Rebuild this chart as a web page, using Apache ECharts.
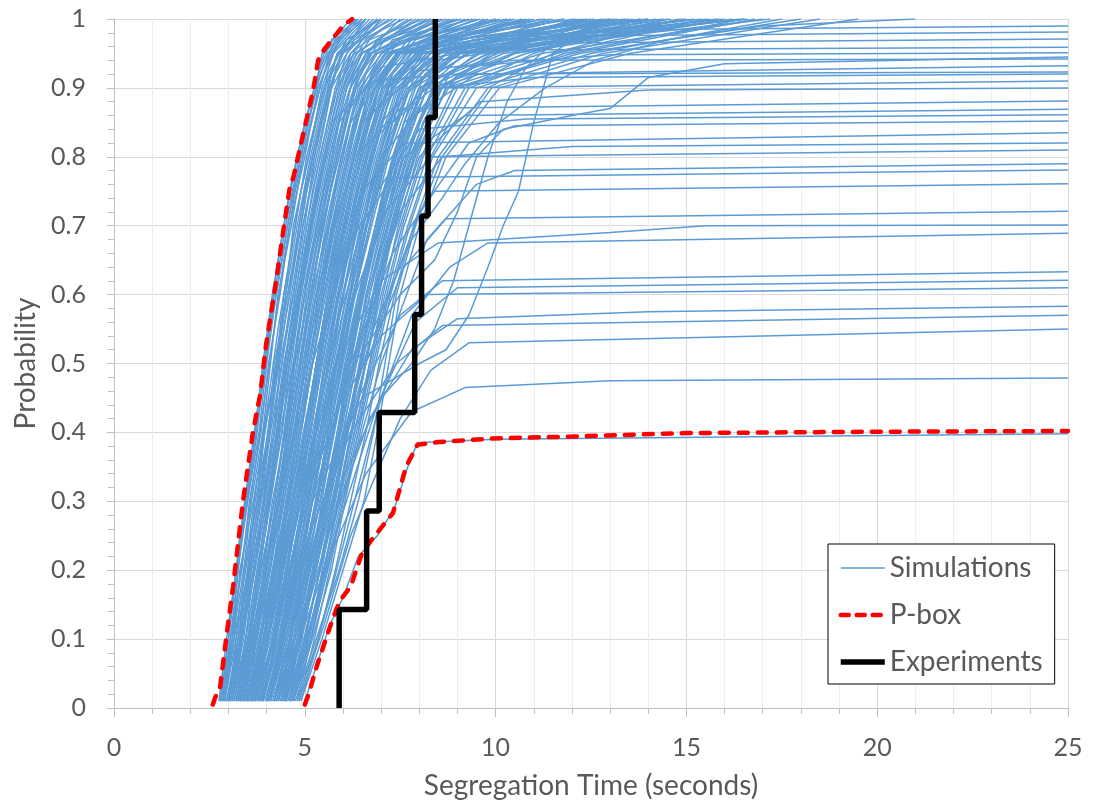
<!DOCTYPE html>
<html>
<head>
<meta charset="utf-8">
<script src="https://cdn.jsdelivr.net/npm/echarts@6/dist/echarts.min.js"></script>
<style>
  html, body { margin: 0; padding: 0; background: #fff; }
  #chart { width: 1093px; height: 805px; }
</style>
</head>
<body>
<div id="chart"></div>
<script>
var simLevels = [0.01, 0.1, 0.2, 0.3, 0.4, 0.5, 0.6, 0.7, 0.8, 0.9, 0.95, 1];
var simLevelsB = [0.01, 0.05, 0.15, 0.25, 0.35, 0.45, 0.55, 0.65, 0.75, 0.85, 0.92, 0.97, 1];

// runs that reach probability 1 (segregation time at each level of simLevels)
var simFullRuns = [
  [2.75, 2.95, 3.2, 3.45, 3.7, 3.9, 4.15, 4.45, 4.8, 5.25, 5.5, 6.35],
  [2.78, 3.0, 3.22, 3.5, 3.75, 3.95, 4.2, 4.5, 4.85, 5.3, 5.45, 6.2],
  [2.8, 3.1, 3.25, 3.5, 3.8, 4.0, 4.25, 4.55, 4.9, 5.3, 5.6, 6.3],
  [2.8, 3.05, 3.35, 3.55, 3.85, 4.05, 4.35, 4.6, 5.0, 5.35, 5.7, 6.5],
  [2.85, 3.1, 3.4, 3.6, 3.9, 4.1, 4.3, 4.65, 4.95, 5.4, 5.65, 6.4],
  [2.85, 3.15, 3.3, 3.65, 3.95, 4.25, 4.45, 4.75, 5.05, 5.5, 5.9, 6.9],
  [2.9, 3.15, 3.45, 3.75, 3.95, 4.25, 4.5, 4.7, 5.1, 5.45, 5.75, 6.6],
  [2.9, 3.2, 3.5, 3.7, 4.05, 4.2, 4.55, 4.9, 5.2, 5.65, 6.0, 7.2],
  [2.95, 3.3, 3.4, 3.75, 3.9, 4.3, 4.5, 4.8, 5.15, 5.55, 5.85, 6.7],
  [2.95, 3.25, 3.5, 3.8, 4.05, 4.3, 4.6, 4.85, 5.2, 5.6, 5.85, 6.8],
  [3.0, 3.25, 3.55, 3.85, 4.1, 4.4, 4.7, 4.95, 5.35, 5.7, 6.2, 7.0],
  [3.0, 3.3, 3.6, 3.9, 4.15, 4.4, 4.65, 4.95, 5.3, 5.7, 5.95, 7.1],
  [3.0, 3.35, 3.55, 3.85, 4.2, 4.35, 4.7, 5.0, 5.25, 5.65, 5.95, 6.6],
  [3.05, 3.4, 3.6, 3.95, 4.2, 4.45, 4.8, 5.1, 5.45, 5.85, 6.3, 7.8],
  [3.05, 3.35, 3.65, 3.95, 4.25, 4.5, 4.75, 5.05, 5.4, 5.8, 6.1, 6.9],
  [3.1, 3.35, 3.7, 4.0, 4.3, 4.6, 4.85, 5.2, 5.55, 6.0, 6.45, 8.3],
  [3.1, 3.45, 3.75, 4.05, 4.3, 4.55, 4.85, 5.15, 5.5, 5.9, 6.2, 7.4],
  [3.15, 3.45, 3.75, 4.05, 4.4, 4.65, 4.9, 5.25, 5.6, 6.05, 6.5, 8.0],
  [3.15, 3.5, 3.8, 4.1, 4.4, 4.6, 4.9, 5.2, 5.55, 6.0, 6.35, 7.7],
  [3.2, 3.5, 3.8, 4.1, 4.35, 4.7, 4.95, 5.3, 5.65, 6.1, 6.6, 7.5],
  [3.2, 3.55, 3.85, 4.2, 4.45, 4.7, 5.0, 5.3, 5.65, 6.1, 6.5, 8.2],
  [3.25, 3.55, 3.9, 4.15, 4.5, 4.75, 5.1, 5.4, 5.8, 6.2, 6.7, 9.0],
  [3.25, 3.6, 3.95, 4.25, 4.55, 4.8, 5.05, 5.4, 5.75, 6.2, 6.6, 7.9],
  [3.3, 3.6, 3.95, 4.3, 4.55, 4.85, 5.15, 5.5, 5.85, 6.35, 6.9, 8.8],
  [3.3, 3.65, 4.0, 4.3, 4.6, 4.9, 5.15, 5.5, 5.85, 6.3, 6.7, 8.6],
  [3.35, 3.7, 4.0, 4.35, 4.65, 4.95, 5.3, 5.6, 5.95, 6.45, 7.1, 10.0],
  [3.35, 3.75, 4.05, 4.4, 4.65, 4.95, 5.25, 5.55, 5.95, 6.4, 6.85, 9.3],
  [3.35, 3.65, 4.0, 4.35, 4.6, 4.9, 5.2, 5.45, 5.9, 6.3, 6.75, 8.4],
  [3.4, 3.75, 4.1, 4.4, 4.7, 5.05, 5.35, 5.7, 6.1, 6.55, 7.2, 9.5],
  [3.4, 3.7, 4.05, 4.45, 4.75, 5.0, 5.4, 5.75, 6.15, 6.6, 7.3, 10.8],
  [3.45, 3.8, 4.2, 4.5, 4.8, 5.1, 5.45, 5.8, 6.2, 6.7, 7.4, 11.0],
  [3.45, 3.8, 4.15, 4.45, 4.75, 5.05, 5.35, 5.65, 6.05, 6.5, 7.0, 8.9],
  [3.5, 3.9, 4.25, 4.6, 4.9, 5.2, 5.55, 5.9, 6.3, 6.8, 7.5, 12.5],
  [3.5, 3.85, 4.15, 4.55, 4.85, 5.2, 5.5, 5.85, 6.25, 6.75, 7.45, 9.2],
  [3.5, 3.85, 4.2, 4.55, 4.8, 5.1, 5.45, 5.75, 6.15, 6.6, 7.1, 10.4],
  [3.55, 3.95, 4.3, 4.65, 5.0, 5.3, 5.65, 6.0, 6.4, 6.95, 7.7, 10.5],
  [3.55, 3.9, 4.25, 4.6, 4.9, 5.2, 5.5, 5.85, 6.25, 6.7, 7.25, 9.8],
  [3.6, 4.0, 4.4, 4.7, 5.05, 5.4, 5.7, 6.1, 6.5, 7.05, 7.9, 13.5],
  [3.6, 4.05, 4.35, 4.75, 5.1, 5.35, 5.75, 6.15, 6.55, 7.1, 8.0, 12.8],
  [3.6, 4.0, 4.35, 4.65, 5.0, 5.3, 5.6, 5.95, 6.35, 6.85, 7.4, 11.5],
  [3.65, 4.1, 4.45, 4.8, 5.15, 5.45, 5.8, 6.2, 6.6, 7.15, 8.1, 11.8],
  [3.65, 4.05, 4.4, 4.7, 5.0, 5.35, 5.65, 6.0, 6.4, 6.9, 7.45, 10.1],
  [3.7, 4.15, 4.5, 4.9, 5.2, 5.55, 5.9, 6.3, 6.75, 7.3, 8.3, 15.0],
  [3.7, 4.05, 4.4, 4.75, 5.05, 5.35, 5.7, 6.05, 6.45, 6.95, 7.5, 10.9],
  [3.75, 4.2, 4.55, 4.85, 5.25, 5.5, 5.85, 6.25, 6.7, 7.2, 8.2, 13.2],
  [3.75, 4.15, 4.5, 4.85, 5.15, 5.45, 5.8, 6.15, 6.55, 7.05, 7.65, 12.4],
  [3.8, 4.2, 4.6, 4.95, 5.3, 5.6, 6.0, 6.4, 6.85, 7.4, 8.5, 12.2],
  [3.85, 4.3, 4.65, 5.05, 5.4, 5.7, 6.1, 6.5, 6.95, 7.55, 8.7, 16.5],
  [3.85, 4.25, 4.6, 4.95, 5.25, 5.55, 5.9, 6.25, 6.65, 7.2, 7.8, 11.2],
  [3.9, 4.35, 4.75, 5.1, 5.45, 5.8, 6.2, 6.6, 7.05, 7.7, 9.0, 14.0],
  [3.9, 4.3, 4.7, 5.0, 5.35, 5.65, 6.0, 6.35, 6.8, 7.3, 8.0, 13.8],
  [3.95, 4.4, 4.8, 5.15, 5.5, 5.85, 6.25, 6.7, 7.1, 7.75, 9.1, 15.8],
  [4.0, 4.45, 4.85, 5.2, 5.55, 5.9, 6.3, 6.75, 7.2, 7.85, 9.3, 17.2],
  [4.0, 4.4, 4.75, 5.1, 5.45, 5.75, 6.1, 6.45, 6.9, 7.45, 8.1, 12.6],
  [4.05, 4.5, 4.9, 5.3, 5.65, 6.0, 6.4, 6.85, 7.35, 8.0, 9.8, 13.0],
  [4.05, 4.45, 4.8, 5.15, 5.5, 5.8, 6.15, 6.55, 6.95, 7.5, 8.2, 9.7],
  [4.1, 4.55, 4.95, 5.35, 5.7, 6.05, 6.45, 6.9, 7.4, 8.1, 9.6, 12.0],
  [4.1, 4.5, 4.85, 5.2, 5.55, 5.85, 6.2, 6.6, 7.0, 7.6, 8.3, 14.6],
  [4.15, 4.6, 5.0, 5.4, 5.75, 6.15, 6.5, 6.95, 7.5, 8.2, 10.2, 16.0],
  [4.2, 4.7, 5.1, 5.5, 5.85, 6.25, 6.65, 7.1, 7.6, 8.35, 10.8, 14.5],
  [4.2, 4.6, 4.95, 5.3, 5.65, 5.95, 6.3, 6.7, 7.15, 7.75, 8.5, 13.1],
  [4.25, 4.75, 5.15, 5.55, 5.9, 6.3, 6.7, 7.15, 7.65, 8.4, 10.5, 16.2],
  [4.3, 4.8, 5.2, 5.6, 6.0, 6.35, 6.8, 7.25, 7.75, 8.5, 11.2, 17.0],
  [4.3, 4.7, 5.05, 5.4, 5.75, 6.1, 6.45, 6.85, 7.3, 7.9, 8.7, 15.2],
  [4.35, 4.85, 5.25, 5.65, 6.05, 6.45, 6.85, 7.3, 7.8, 8.6, 10.0, 14.2],
  [4.4, 4.9, 5.3, 5.7, 6.1, 6.5, 6.9, 7.35, 7.9, 8.7, 11.6, 15.5],
  [4.4, 4.8, 5.2, 5.5, 5.85, 6.2, 6.55, 6.95, 7.45, 8.05, 8.9, 11.4],
  [4.45, 4.85, 5.25, 5.6, 5.95, 6.3, 6.6, 7.05, 7.5, 8.1, 9.0, 12.9],
  [4.5, 5.0, 5.4, 5.85, 6.2, 6.6, 7.0, 7.5, 8.05, 8.9, 12.0, 16.8],
  [4.5, 4.9, 5.3, 5.65, 6.0, 6.35, 6.7, 7.1, 7.55, 8.2, 9.2, 16.4],
  [4.55, 5.05, 5.5, 5.9, 6.3, 6.7, 7.1, 7.55, 8.1, 9.0, 12.2, 18.0],
  [4.6, 5.1, 5.55, 5.95, 6.35, 6.75, 7.15, 7.6, 8.2, 9.2, 11.0, 13.8],
  [4.6, 5.0, 5.4, 5.75, 6.1, 6.45, 6.8, 7.2, 7.7, 8.35, 9.5, 13.6],
  [4.65, 5.15, 5.6, 6.0, 6.4, 6.8, 7.2, 7.7, 8.3, 9.3, 11.8, 16.5],
  [4.7, 5.2, 5.7, 6.05, 6.45, 6.85, 7.25, 7.75, 8.35, 9.5, 12.5, 17.5],
  [4.7, 5.1, 5.5, 5.85, 6.25, 6.6, 6.95, 7.35, 7.85, 8.55, 9.9, 15.6],
  [4.75, 5.3, 5.9, 6.4, 6.8, 7.1, 7.4, 7.9, 8.6, 9.9, 12.8, 18.5],
  [4.8, 5.35, 5.8, 6.2, 6.6, 6.95, 7.35, 7.85, 8.5, 9.8, 11.5, 14.8],
  [4.85, 5.25, 5.65, 6.0, 6.4, 6.7, 7.05, 7.45, 7.95, 8.7, 10.5, 14.9],
  [4.9, 5.45, 6.0, 6.55, 6.9, 7.2, 7.5, 8.0, 8.7, 10.1, 13.5, 19.5]
];

// more full runs, read at the offset levels of simLevelsB
var simFullRunsB = [
  [2.8, 2.9, 3.1, 3.3, 3.55, 3.8, 4.05, 4.3, 4.6, 5.0, 5.35, 5.7, 6.4],
  [2.85, 2.95, 3.15, 3.35, 3.6, 3.85, 4.1, 4.4, 4.7, 5.1, 5.4, 5.8, 6.5],
  [2.9, 3.0, 3.2, 3.45, 3.7, 3.95, 4.2, 4.45, 4.75, 5.15, 5.5, 5.9, 6.6],
  [3.0, 3.1, 3.3, 3.55, 3.8, 4.05, 4.3, 4.6, 4.9, 5.3, 5.6, 6.1, 7.0],
  [3.05, 3.2, 3.4, 3.65, 3.9, 4.15, 4.4, 4.7, 5.0, 5.4, 5.7, 6.2, 6.9],
  [3.1, 3.25, 3.45, 3.7, 3.95, 4.2, 4.45, 4.75, 5.05, 5.45, 5.8, 6.3, 7.3],
  [3.2, 3.35, 3.55, 3.8, 4.05, 4.35, 4.6, 4.9, 5.2, 5.6, 5.95, 6.5, 7.6],
  [3.25, 3.4, 3.65, 3.9, 4.15, 4.4, 4.7, 4.95, 5.3, 5.7, 6.05, 6.6, 7.4],
  [3.3, 3.45, 3.7, 3.95, 4.2, 4.45, 4.75, 5.0, 5.35, 5.75, 6.1, 6.7, 8.1],
  [3.4, 3.55, 3.8, 4.05, 4.35, 4.6, 4.85, 5.15, 5.5, 5.9, 6.3, 6.9, 7.8],
  [3.45, 3.6, 3.85, 4.1, 4.4, 4.65, 4.95, 5.25, 5.6, 6.0, 6.4, 7.0, 8.3],
  [3.5, 3.7, 3.95, 4.2, 4.45, 4.75, 5.0, 5.3, 5.65, 6.05, 6.45, 7.1, 8.7],
  [3.6, 3.8, 4.05, 4.3, 4.6, 4.85, 5.15, 5.45, 5.8, 6.2, 6.6, 7.3, 9.4],
  [3.65, 3.85, 4.1, 4.4, 4.65, 4.95, 5.25, 5.55, 5.9, 6.3, 6.75, 7.4, 9.1],
  [3.7, 3.9, 4.15, 4.45, 4.7, 5.0, 5.3, 5.6, 5.95, 6.35, 6.8, 7.5, 8.5],
  [3.8, 4.0, 4.3, 4.55, 4.85, 5.15, 5.45, 5.75, 6.1, 6.5, 7.0, 7.7, 10.3],
  [3.85, 4.05, 4.35, 4.65, 4.95, 5.25, 5.55, 5.85, 6.2, 6.6, 7.1, 7.8, 10.0],
  [3.9, 4.1, 4.4, 4.7, 5.0, 5.3, 5.6, 5.9, 6.25, 6.7, 7.15, 7.9, 9.6],
  [4.0, 4.2, 4.5, 4.8, 5.1, 5.4, 5.7, 6.05, 6.4, 6.85, 7.3, 8.1, 11.3],
  [4.05, 4.3, 4.55, 4.85, 5.15, 5.45, 5.8, 6.1, 6.5, 6.95, 7.4, 8.3, 11.8],
  [4.1, 4.3, 4.6, 4.9, 5.25, 5.55, 5.85, 6.2, 6.55, 7.0, 7.5, 8.4, 12.1],
  [4.2, 4.45, 4.75, 5.05, 5.35, 5.65, 6.0, 6.35, 6.7, 7.2, 7.7, 8.7, 10.7],
  [4.25, 4.5, 4.8, 5.1, 5.45, 5.75, 6.1, 6.45, 6.8, 7.3, 7.8, 8.9, 13.0],
  [4.3, 4.55, 4.85, 5.15, 5.5, 5.8, 6.15, 6.5, 6.9, 7.4, 7.9, 9.0, 13.4],
  [4.4, 4.65, 4.95, 5.3, 5.6, 5.95, 6.3, 6.65, 7.05, 7.6, 8.15, 9.4, 14.4],
  [4.45, 4.7, 5.05, 5.35, 5.7, 6.0, 6.35, 6.7, 7.1, 7.7, 8.3, 9.6, 14.0],
  [4.5, 4.75, 5.1, 5.4, 5.75, 6.1, 6.45, 6.8, 7.2, 7.8, 8.4, 9.9, 12.3],
  [4.6, 4.85, 5.2, 5.55, 5.9, 6.25, 6.6, 6.95, 7.4, 8.0, 8.7, 10.6, 15.4],
  [4.65, 4.9, 5.3, 5.6, 5.95, 6.3, 6.7, 7.05, 7.5, 8.1, 8.8, 10.9, 15.9],
  [4.7, 4.95, 5.35, 5.7, 6.05, 6.4, 6.75, 7.1, 7.55, 8.2, 9.0, 11.4, 16.6]
];

// runs that level off below 1 ([time, probability] points)
var simPlateauRuns = [
  [[3.3, 0.01], [4.3, 0.3], [5.2, 0.6], [6.2, 0.85], [7.5, 0.95], [10, 0.975], [15, 0.985], [25, 0.99]],
  [[3.6, 0.01], [4.7, 0.3], [5.6, 0.6], [6.6, 0.85], [8.0, 0.95], [11, 0.975], [25, 0.981]],
  [[3.9, 0.01], [5.0, 0.3], [5.9, 0.6], [7.0, 0.85], [8.5, 0.94], [11.5, 0.965], [25, 0.971]],
  [[3.2, 0.01], [4.2, 0.3], [5.0, 0.6], [5.9, 0.85], [7.0, 0.93], [9.5, 0.955], [25, 0.959]],
  [[4.2, 0.01], [5.3, 0.3], [6.2, 0.6], [7.3, 0.85], [9.0, 0.93], [13, 0.948], [25, 0.951]],
  [[3.5, 0.01], [4.6, 0.3], [5.5, 0.6], [6.5, 0.85], [8.0, 0.925], [10.5, 0.94], [25, 0.942]],
  [[4.5, 0.01], [5.6, 0.3], [6.5, 0.6], [7.6, 0.85], [9.5, 0.92], [25, 0.932]],
  [[3.0, 0.01], [4.0, 0.3], [4.8, 0.6], [5.7, 0.85], [6.8, 0.91], [9, 0.92], [25, 0.923]],
  [[4.0, 0.01], [5.1, 0.3], [6.0, 0.6], [7.0, 0.8], [8.5, 0.9], [11, 0.915], [25, 0.92]],
  [[3.7, 0.01], [4.8, 0.3], [5.7, 0.6], [6.7, 0.82], [8.2, 0.9], [25, 0.91]],
  [[4.6, 0.01], [5.8, 0.3], [6.8, 0.6], [8.0, 0.8], [9.6, 0.88], [14, 0.897], [25, 0.9]],
  [[3.4, 0.01], [4.4, 0.3], [5.3, 0.6], [6.3, 0.8], [7.5, 0.87], [25, 0.881]],
  [[4.3, 0.01], [5.4, 0.3], [6.4, 0.6], [7.6, 0.8], [9.2, 0.86], [25, 0.869]],
  [[3.8, 0.01], [4.9, 0.3], [5.8, 0.55], [6.9, 0.75], [8.0, 0.84], [10.8, 0.855], [25, 0.861]],
  [[4.7, 0.01], [5.9, 0.3], [6.9, 0.55], [8.0, 0.72], [9.3, 0.82], [10.5, 0.845], [25, 0.852]],
  [[3.6, 0.01], [4.6, 0.3], [5.5, 0.55], [6.5, 0.75], [7.6, 0.82], [25, 0.835]],
  [[4.4, 0.01], [5.5, 0.3], [6.5, 0.55], [7.5, 0.72], [8.6, 0.8], [12, 0.815], [25, 0.82]],
  [[3.9, 0.01], [5.0, 0.3], [6.0, 0.55], [7.1, 0.72], [8.3, 0.8], [25, 0.81]],
  [[4.8, 0.01], [6.0, 0.3], [7.0, 0.5], [8.2, 0.68], [9.5, 0.76], [10.5, 0.78], [25, 0.79]],
  [[3.3, 0.01], [4.3, 0.3], [5.2, 0.5], [6.2, 0.68], [7.3, 0.77], [25, 0.781]],
  [[4.1, 0.01], [5.2, 0.3], [6.2, 0.5], [7.3, 0.66], [8.4, 0.75], [25, 0.761]],
  [[4.5, 0.01], [5.6, 0.3], [6.6, 0.5], [7.6, 0.64], [8.7, 0.71], [25, 0.721]],
  [[3.7, 0.01], [4.8, 0.3], [5.8, 0.5], [7.0, 0.62], [8.5, 0.675], [13, 0.69], [15.5, 0.7], [25, 0.701]],
  [[4.9, 0.01], [5.6, 0.15], [6.3, 0.3], [7.0, 0.45], [7.8, 0.57], [8.8, 0.64], [9.8, 0.675], [25, 0.689]],
  [[4.2, 0.01], [5.3, 0.25], [6.4, 0.45], [7.5, 0.57], [8.6, 0.62], [25, 0.633]],
  [[4.6, 0.01], [5.8, 0.25], [6.9, 0.44], [7.9, 0.56], [9.0, 0.61], [25, 0.621]],
  [[3.5, 0.01], [4.6, 0.25], [5.7, 0.42], [7.0, 0.54], [8.2, 0.6], [25, 0.61]],
  [[4.4, 0.01], [5.6, 0.25], [6.7, 0.42], [7.8, 0.52], [9.0, 0.565], [14, 0.575], [25, 0.583]],
  [[4.0, 0.01], [5.1, 0.25], [6.2, 0.4], [7.4, 0.5], [8.6, 0.555], [25, 0.57]],
  [[4.85, 0.01], [5.5, 0.12], [6.2, 0.25], [6.8, 0.33], [7.5, 0.42], [8.3, 0.49], [9.3, 0.53], [25, 0.55]],
  [[4.3, 0.01], [5.5, 0.2], [6.6, 0.34], [7.8, 0.43], [9.2, 0.465], [13, 0.475], [25, 0.479]],
  [[5.0, 0.01], [5.3, 0.06], [5.65, 0.12], [6.0, 0.16], [6.4, 0.22], [6.9, 0.25], [7.35, 0.29], [7.7, 0.35], [7.95, 0.385], [10, 0.39], [25, 0.398]]
];

// slow runs with a long climb past 8 s
var simLateRuns = [
  [[4.0, 0.01], [5.2, 0.3], [6.5, 0.45], [8.0, 0.5], [8.7, 0.52], [9.3, 0.57], [9.8, 0.64], [10.2, 0.7], [10.6, 0.75], [11.0, 0.85], [11.5, 0.95], [12.5, 0.99], [14, 1]],
  [[4.5, 0.01], [5.7, 0.3], [7.0, 0.45], [7.8, 0.5], [8.4, 0.55], [8.9, 0.62], [9.3, 0.7], [9.8, 0.8], [10.3, 0.88], [10.8, 0.93], [11.6, 0.97], [13, 1]],
  [[3.8, 0.01], [5.0, 0.3], [6.3, 0.5], [7.5, 0.6], [8.4, 0.65], [9.0, 0.72], [9.5, 0.8], [10.2, 0.84], [12.0, 0.86], [13.0, 0.87], [14.0, 0.915], [16, 0.935], [25, 0.945]],
  [[4.2, 0.01], [5.5, 0.3], [6.8, 0.55], [7.8, 0.68], [8.6, 0.74], [9.2, 0.79], [10.1, 0.85], [11.3, 0.9], [12.6, 0.94], [14.5, 0.97], [17, 0.99], [21, 1]]
];

// p-box bounds
var pboxUpper = [[2.59, 0.005], [2.65, 0.015], [2.78, 0.03], [2.96, 0.11], [3.12, 0.176], [3.38, 0.30], [3.64, 0.40], [3.83, 0.455],
  [3.98, 0.525], [4.05, 0.55], [4.25, 0.62], [4.44, 0.694], [4.61, 0.757], [4.7, 0.77], [4.92, 0.824], [5.22, 0.897],
  [5.35, 0.94], [5.5, 0.955], [5.74, 0.972], [6.0, 0.99], [6.24, 1.0]];
var pboxLower = [[5.0, 0.005], [5.1, 0.02], [5.31, 0.06], [5.66, 0.118], [5.84, 0.145], [5.95, 0.158], [6.2, 0.176], [6.5, 0.225],
  [6.75, 0.244], [7.05, 0.265], [7.31, 0.283], [7.5, 0.32], [7.65, 0.35], [7.84, 0.37], [7.95, 0.382], [8.5, 0.386],
  [9.85, 0.391], [12, 0.394], [15, 0.399], [20, 0.401], [25, 0.402]];

// experiments: empirical CDF of 7 tests
var expTimes = [5.9, 6.62, 6.95, 7.88, 8.06, 8.23, 8.42];
var expProbs = [0.143, 0.286, 0.429, 0.571, 0.714, 0.857, 1.0];

var simColor = "#5B9BD5";
var textColor = "#595959";
var font = "Lato, 'Open Sans', sans-serif";
var simStyle = { color: simColor, width: 1.5 };
var pboxStyle = { color: "#FF0000", width: 4.5, type: [9, 10], cap: "round" };
var expStyle = { color: "#000", width: 5.5 };

var series = [];
function addSim(points) {
  series.push({
    name: "Simulations",
    type: "line",
    data: points,
    symbol: "none",
    silent: true,
    z: 2,
    lineStyle: simStyle,
    itemStyle: { color: simColor },
  });
}
simFullRuns.forEach(function (xs) {
  addSim(xs.map(function (x, i) { return [x, simLevels[i]]; }));
});
simFullRunsB.forEach(function (xs) {
  addSim(xs.map(function (x, i) { return [x, simLevelsB[i]]; }));
});
simPlateauRuns.forEach(addSim);
simLateRuns.forEach(addSim);

[pboxUpper, pboxLower].forEach(function (pts) {
  series.push({
    name: "P-box",
    type: "line",
    data: pts,
    symbol: "none",
    silent: true,
    z: 3,
    lineStyle: pboxStyle,
    itemStyle: { color: "#FF0000" },
  });
});

var expSteps = [[expTimes[0], 0]];
expTimes.forEach(function (t, i) {
  if (i > 0) expSteps.push([t, expProbs[i - 1]]);
  expSteps.push([t, expProbs[i]]);
});
series.push({
  name: "Experiments",
  type: "line",
  data: expSteps,
  symbol: "none",
  silent: true,
  z: 4,
  lineStyle: expStyle,
  itemStyle: { color: "#000" },
});

var myChart = echarts.init(document.getElementById("chart"));
var option = {
  animation: false,
  backgroundColor: "#fff",
  grid: { left: 114, right: 25, top: 19, bottom: 97, outerBoundsMode: "none" },
  legend: {
    data: [
      { name: "Simulations", lineStyle: { width: 1.5 } },
      { name: "P-box", lineStyle: { width: 4.5, type: [8, 8], cap: "round" } },
      { name: "Experiments", lineStyle: { width: 5.5 } },
    ],
    orient: "vertical",
    left: 828,
    top: 544,
    itemWidth: 44,
    itemHeight: 14,
    itemGap: 17,
    padding: [9, 12, 7, 10],
    backgroundColor: "#fff",
    borderColor: "#000",
    borderWidth: 1,
    borderRadius: 0,
    selectedMode: false,
    itemStyle: { opacity: 0 },
    textStyle: { color: textColor, fontSize: 28, fontFamily: font, lineHeight: 30 },
  },
  xAxis: {
    type: "value",
    min: 0,
    max: 25,
    interval: 5,
    name: "Segregation Time (seconds)",
    nameLocation: "middle",
    nameGap: 64,
    nameTextStyle: { color: textColor, fontSize: 28, fontFamily: font },
    axisLine: { show: true, lineStyle: { color: "#bfbfbf", width: 1 } },
    axisTick: { show: true, length: 9, lineStyle: { color: "#bfbfbf" } },
    minorTick: { show: true, splitNumber: 5, length: 6, lineStyle: { color: "#bfbfbf" } },
    axisLabel: { color: textColor, fontSize: 25, fontFamily: font, margin: 27 },
    splitLine: { show: true, lineStyle: { color: "#d9d9d9", width: 1 } },
    minorSplitLine: { show: true, lineStyle: { color: "#eeeeee", width: 1 } },
  },
  yAxis: {
    type: "value",
    min: 0,
    max: 1,
    interval: 0.1,
    name: "Probability",
    nameLocation: "middle",
    nameGap: 74,
    nameTextStyle: { color: textColor, fontSize: 28, fontFamily: font },
    axisLine: { show: true, lineStyle: { color: "#bfbfbf", width: 1 } },
    axisTick: { show: true, length: 7, lineStyle: { color: "#bfbfbf" } },
    minorTick: { show: true, splitNumber: 5, length: 6, lineStyle: { color: "#bfbfbf" } },
    axisLabel: {
      color: textColor, fontSize: 25, fontFamily: font, margin: 28,
      formatter: function (v) { return v === 0 || v === 1 ? String(v) : v.toFixed(1); },
    },
    splitLine: { show: true, lineStyle: { color: "#d9d9d9", width: 1 } },
  },
  series: series,
};
myChart.setOption(option);
window.addEventListener("resize", myChart.resize);
</script>
</body>
</html>
